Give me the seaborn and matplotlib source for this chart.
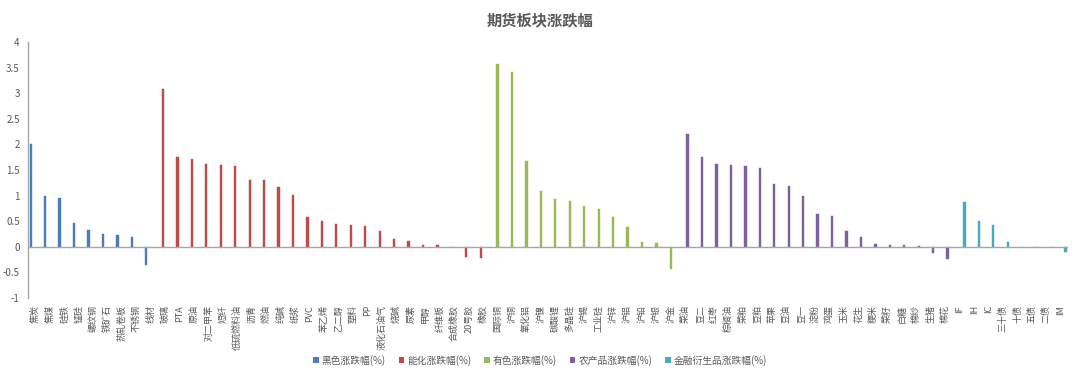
import numpy as np
import pandas as pd
import seaborn as sns
import matplotlib.pyplot as plt
from matplotlib.patches import Patch
from matplotlib.ticker import FuncFormatter

# 黑色
black_names = ['焦炭', '焦煤', '硅铁', '锰硅', '螺纹钢', '铁矿石', '热轧卷板', '不锈钢', '线材']
black_vals = [2.01, 0.99, 0.95, 0.47, 0.32, 0.25, 0.24, 0.2, -0.36]

# 能化
chem_names = ['玻璃', 'PTA', '原油', '对二甲苯', '短纤', '低硫燃料油', '沥青', '燃油', '纯碱',
              '纸浆', 'PVC', '苯乙烯', '乙二醇', '塑料', 'PP', '液化石油气', '烧碱', '尿素',
              '甲醇', '纤维板', '合成橡胶', '20号胶', '橡胶']
chem_vals = [3.09, 1.75, 1.72, 1.62, 1.6, 1.57, 1.31, 1.31, 1.16,
             1.01, 0.59, 0.51, 0.45, 0.43, 0.41, 0.31, 0.16, 0.12,
             0.04, 0.03, 0.0, -0.2, -0.21]

# 有色
metal_names = ['国际铜', '沪铜', '氧化铝', '沪镍', '碳酸锂', '多晶硅', '沪锡', '工业硅',
               '沪锌', '沪铝', '沪铅', '沪银', '沪金']
metal_vals = [3.58, 3.41, 1.67, 1.09, 0.94, 0.9, 0.8, 0.73, 0.59, 0.38, 0.09, 0.08, -0.44]

# 农产品
agri_names = ['菜油', '豆二', '红枣', '棕榈油', '菜粕', '豆粕', '苹果', '豆油', '豆一', '淀粉',
              '鸡蛋', '玉米', '花生', '粳米', '菜籽', '白糖', '棉纱', '生猪', '棉花']
agri_vals = [2.2, 1.76, 1.61, 1.59, 1.57, 1.53, 1.22, 1.18, 0.99, 0.64,
             0.6, 0.3, 0.2, 0.05, 0.045, 0.03, 0.02, -0.13, -0.23]

# 金融衍生品
fin_names = ['IF', 'IH', 'IC', '三十债', '十债', '五债', '二债', 'IM']
fin_vals = [0.88, 0.51, 0.42, 0.1, 0.0, 0.0, 0.0, -0.1]

groups = ['黑色涨跌幅(%)', '能化涨跌幅(%)', '有色涨跌幅(%)', '农产品涨跌幅(%)', '金融衍生品涨跌幅(%)']
colors = ['#4A7EBB', '#BE4B48', '#98B954', '#7D60A0', '#46AAC5']


def main():
    frames = []
    for g, names, vals in zip(groups,
                              [black_names, chem_names, metal_names, agri_names, fin_names],
                              [black_vals, chem_vals, metal_vals, agri_vals, fin_vals]):
        frames.append(pd.DataFrame({'品种': names, '涨跌幅': vals, '板块': g}))
    df = pd.concat(frames, ignore_index=True)
    order = list(df['品种'])

    sns.set_style('white')
    plt.rcParams['font.family'] = ['Noto Sans CJK SC', 'DejaVu Sans']

    fig = plt.figure(figsize=(10.8, 3.77), dpi=100)
    ax = fig.add_axes([0.026, 0.2095, 0.963, 0.679])

    sns.barplot(data=df, x='品种', y='涨跌幅', hue='板块', order=order, hue_order=groups,
                palette=dict(zip(groups, colors)), errorbar=None, width=0.8, dodge=True,
                saturation=1, legend=False, ax=ax)
    # thin bars: give each an edge in its own colour so they render evenly
    for p in ax.patches:
        p.set_edgecolor(p.get_facecolor())
        p.set_linewidth(0.3)

    ax.axhline(0, color='#A6A6A6', lw=1, zorder=3)
    ax.set_xlim(-0.5, len(order) - 0.5)
    ax.set_ylim(-1, 4)
    ax.set_yticks(np.arange(-1, 4.01, 0.5))
    ax.yaxis.set_major_formatter(FuncFormatter(lambda v, p: '%g' % v))
    ax.set_xlabel('')
    ax.set_ylabel('')
    ax.tick_params(axis='both', length=0, colors='#595959')
    ax.tick_params(axis='y', labelsize=7, pad=6)
    ax.tick_params(axis='x', labelsize=6.5, pad=5)
    for lab in ax.get_xticklabels():
        lab.set_rotation(90)
        lab.set_va('top')
        lab.set_ha('center')

    for s in ['top', 'right', 'bottom']:
        ax.spines[s].set_visible(False)
    ax.spines['left'].set_color('#A6A6A6')
    ax.spines['left'].set_linewidth(1)

    fig.text(0.5, 0.945, '期货板块涨跌幅', ha='center', va='center',
             fontsize=11, fontweight='bold', color='#595959')

    handles = [Patch(facecolor=c, edgecolor='none') for c in colors]
    fig.legend(handles, groups, loc='center', bbox_to_anchor=(0.5, 0.045), ncol=5,
               frameon=False, fontsize=7, handlelength=0.6, handleheight=0.6,
               handletextpad=0.3, columnspacing=1.3, labelcolor='#595959')

    fig.savefig('out.png', dpi=100)


if __name__ == '__main__':
    main()
